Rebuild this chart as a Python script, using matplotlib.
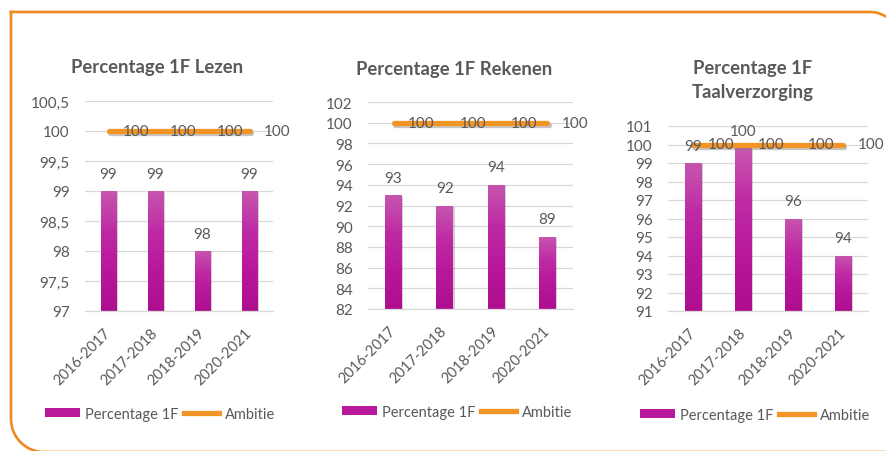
import numpy as np
import matplotlib
matplotlib.use('Agg')
import matplotlib.pyplot as plt
from matplotlib.lines import Line2D
from matplotlib.patches import Patch
import matplotlib.patheffects as pe
import matplotlib.transforms as mtransforms
from matplotlib.colors import LinearSegmentedColormap

# ---------------- data ----------------
categories = ['2016-2017', '2017-2018', '2018-2019', '2020-2021']
titles = ['Percentage 1F Lezen', 'Percentage 1F Rekenen', 'Percentage 1F\nTaalverzorging']
lezen = [99, 99, 98, 99]
rekenen = [93, 92, 94, 89]
taal = [99, 99.8, 96, 94]
ambitie = [100, 100, 100, 100]
lezen_ticks = [97, 97.5, 98, 98.5, 99, 99.5, 100, 100.5]
lezen_ticklabels = ['97', '97,5', '98', '98,5', '99', '99,5', '100', '100,5']
rekenen_ticks = [82, 84, 86, 88, 90, 92, 94, 96, 98, 100, 102]
rekenen_ticklabels = [str(t) for t in rekenen_ticks]
taal_ticks = [91, 92, 93, 94, 95, 96, 97, 98, 99, 100, 101]
taal_ticklabels = [str(t) for t in taal_ticks]
legend_labels = ['Percentage 1F', 'Ambitie']

# ---------------- style ----------------
W, H = 887, 452
plt.rcParams['font.family'] = ['Lato', 'DejaVu Sans']
TXT = '#595959'
GRID = '#D9D9D9'
ORANGE = '#F39426'
BORDER = '#EE8A1E'
MAGENTA = '#B8189C'
grad_cmap = LinearSegmentedColormap.from_list('g', ['#AE0E8E', '#B8179C', '#BE2AA4', '#C755AE'])
FS = 11
FS_X = 10.5

def fx(px):
    return px / W

def fy(py):
    return 1 - py / H

fig = plt.figure(figsize=(W / 100, H / 100), dpi=100)

charts = [
    dict(vals=lezen, ticks=lezen_ticks, tl=lezen_ticklabels, rect=(85, 102, 273, 312),
         title=titles[0], tpos=(157, 68), leg=(160, 415)),
    dict(vals=rekenen, ticks=rekenen_ticks, tl=rekenen_ticklabels, rect=(368, 103, 573, 310),
         title=titles[1], tpos=(454, 70), leg=(457, 413)),
    dict(vals=taal, ticks=taal_ticks, tl=taal_ticklabels, rect=(668, 127, 868, 312),
         title=titles[2], tpos=(753, 80.5), leg=(755, 416)),
]

shift = mtransforms.ScaledTranslation(3 / 100, -4 / 100, fig.dpi_scale_trans)

for c in charts:
    l, t, r, b = c['rect']
    ax = fig.add_axes([fx(l), fy(b), (r - l) / W, (b - t) / H])
    x = np.arange(len(categories))
    bars = ax.bar(x, np.array(c['vals']) - c['ticks'][0], bottom=c['ticks'][0], width=0.33,
                  color=MAGENTA, zorder=2,
                  path_effects=[pe.SimplePatchShadow(offset=(1.0, -1.0), alpha=0.2), pe.Normal()])
    grad = np.linspace(0, 1, 64).reshape(-1, 1)
    for rect in bars:
        x0, y0 = rect.get_xy()
        w, h = rect.get_width(), rect.get_height()
        im = ax.imshow(grad, extent=[x0, x0 + w, y0, y0 + h], origin='lower', aspect='auto',
                       cmap=grad_cmap, zorder=2.1)
        im.set_clip_path(rect)
    ax.plot(x, ambitie, color=ORANGE, lw=3.8, solid_capstyle='round', zorder=3,
            path_effects=[pe.SimpleLineShadow(offset=(1, -1.5), shadow_color='#808080', alpha=0.45),
                          pe.Normal()])
    for xi, v in zip(x, c['vals']):
        ax.annotate(f'{v:.0f}', (xi, v), xytext=(0, 12.5), textcoords='offset points',
                    ha='center', va='center', fontsize=FS, color=TXT, zorder=5)
    for xi, v in zip(x, ambitie):
        ax.annotate(f'{v:.0f}', (xi, v), xytext=(20, 0), textcoords='offset points',
                    ha='center', va='center', fontsize=FS, color=TXT, zorder=5,
                    annotation_clip=False)
    ax.set_xlim(-0.5, len(categories) - 0.5)
    ax.set_ylim(c['ticks'][0], c['ticks'][-1])
    ax.set_yticks(c['ticks'])
    ax.set_yticklabels(c['tl'], fontsize=FS)
    ax.set_xticks(x)
    ax.set_xticklabels(categories, rotation=45, ha='right', va='center', rotation_mode='anchor',
                       fontsize=FS_X)
    for lab in ax.get_xticklabels():
        lab.set_transform(lab.get_transform() + shift)
    ax.tick_params(axis='both', length=0, labelcolor=TXT)
    ax.tick_params(axis='y', pad=11)
    ax.tick_params(axis='x', pad=14)
    ax.grid(axis='y', color=GRID, lw=0.9, zorder=0)
    ax.set_axisbelow(True)
    for s in ['top', 'right', 'left']:
        ax.spines[s].set_visible(False)
    ax.spines['bottom'].set_color(GRID)
    ax.spines['bottom'].set_linewidth(0.9)
    ax.patch.set_alpha(0)

    fig.text(fx(c['tpos'][0]), fy(c['tpos'][1]), c['title'], ha='center', va='center',
             fontsize=13.3, fontweight='bold', color=TXT, linespacing=1.5)

    handles = [Patch(facecolor=MAGENTA, edgecolor='none'),
               Line2D([0], [0], color=ORANGE, lw=3.8)]
    fig.legend(handles, legend_labels, loc='center', bbox_to_anchor=(fx(c['leg'][0]), fy(c['leg'][1])),
               ncol=2, frameon=False, handlelength=2.4, handleheight=0.55, handletextpad=0.35,
               columnspacing=0.4, fontsize=10.5, labelcolor=TXT, borderpad=0, borderaxespad=0)

# ---------------- orange rounded border ----------------
r1, r2 = 30, 33
t1 = np.radians(np.linspace(90, 0, 30))
t2 = np.radians(np.linspace(270, 180, 30))
xs = [11, 870] + list(870 + r1 * np.cos(t1)) + [900, 900, 44] + list(44 + r2 * np.cos(t2)) + [11, 11]
ys = [13, 13] + list(43 - r1 * np.sin(t1)) + [43, 453, 453] + list(420 - r2 * np.sin(t2)) + [420, 13]
fig.add_artist(Line2D([fx(v) for v in xs], [fy(v) for v in ys], transform=fig.transFigure,
                      color=BORDER, lw=1.9, solid_joinstyle='miter'))

fig.savefig('out.png', dpi=100)
